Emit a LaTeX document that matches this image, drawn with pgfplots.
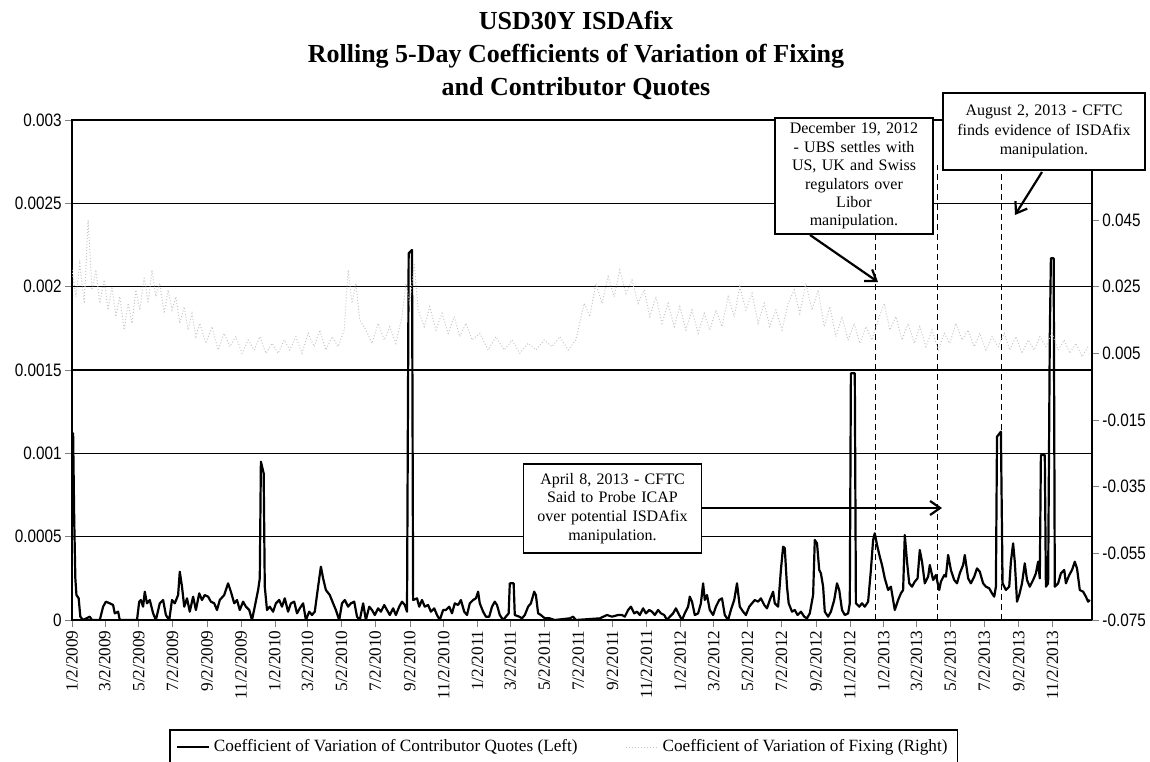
\documentclass[border=0pt]{standalone}
\usepackage{fontspec}
\setmainfont{Liberation Serif}
\newfontfamily\narrow{Liberation Sans}[FakeStretch=0.85]
\usepackage{pgfplots}
\usepackage{pgfplotstable}
\pgfplotsset{compat=1.18}
\usetikzlibrary{arrows.meta}

\pgfplotstableread{
day cv
0 0.0009
2 0.00112
4 0.0006
6 0.00025
8 0.00015
12 0.00013
15 0.00002
20 0.0
32 0.00002
36 0.0
50 0.0
56 0.00008
61 0.00011
68 0.0001
74 0.00009
77 0.00004
83 0.00005
86 0.0
117 0.0
121 0.00011
124 0.00012
128 0.00008
131 0.00017
135 0.0001
140 0.00012
146 0.00004
151 0.0
158 0.0001
164 0.00012
169 0.00003
175 0.0
180 0.00012
185 0.0001
191 0.00015
194 0.00029
198 0.0002
202 0.00008
207 0.00013
212 0.00005
218 0.00014
223 0.00006
229 0.00016
234 0.00012
239 0.00015
245 0.00014
250 0.00011
256 0.0001
261 0.00006
266 0.00012
274 0.00015
281 0.00022
286 0.00017
292 0.0001
297 0.00012
302 0.00006
308 0.00011
313 0.00008
319 0.00006
324 0.0
329 0.00008
335 0.00018
338 0.00025
340 0.00095
345 0.00088
347 0.0002
351 0.00006
356 0.00008
362 0.00005
367 0.0001
373 0.00012
378 0.00008
383 0.00013
389 0.00005
394 0.0001
400 0.00011
405 0.00004
410 0.00007
416 0.0001
421 0.0
427 0.00005
432 0.00003
437 0.00005
443 0.0002
448 0.00032
452 0.00025
457 0.00018
464 0.00015
470 0.0001
475 0.00006
481 0.0
486 0.0001
491 0.00012
497 0.00008
502 0.0001
508 0.00011
513 0.00002
518 0.0
524 0.0001
529 0.0
535 0.00008
540 0.00006
545 0.00003
551 0.00007
556 0.00005
562 0.00009
567 0.00006
572 0.00003
578 0.00007
583 0.00003
589 0.00008
594 0.00011
599 0.00009
603 0.00005
606 0.0022
612 0.00222
614 0.00012
621 0.00013
625 0.00008
630 0.00012
635 0.00008
641 0.00009
646 0.00005
652 0.00007
657 0.00003
662 0.0
668 0.00006
673 0.00006
679 0.00008
684 0.00004
689 0.0001
695 0.00009
700 0.00012
706 0.00005
711 0.00003
716 0.0001
722 0.00012
727 0.00013
731 0.00017
734 0.0001
740 0.00005
745 0.00002
751 0.00002
756 0.00008
761 0.00011
765 0.00009
770 0.00003
776 0.0
781 0.00002
786 0.00004
788 0.00022
795 0.00022
797 0.00003
805 0.00002
810 0.00001
815 0.00003
821 0.00008
826 0.0001
832 0.00017
835 0.00015
839 0.00004
844 0.00003
851 0.00001
860 0.00001
869 0.0
896 0.00001
902 0.00002
907 0.0
950 0.00001
963 0.00003
972 0.00002
983 0.00003
990 0.00003
995 0.00002
1001 0.00006
1006 0.00008
1012 0.00004
1017 0.00005
1022 0.00003
1028 0.00007
1033 0.00004
1039 0.00006
1044 0.00005
1049 0.00003
1055 0.00006
1060 0.00004
1066 0.00003
1071 0.0
1076 0.00002
1082 0.00004
1087 0.00007
1093 0.00003
1098 0.0
1103 0.00004
1109 0.00008
1112 0.00014
1116 0.00011
1121 0.00003
1127 0.00004
1132 0.0001
1136 0.00022
1139 0.00012
1143 0.00015
1148 0.00006
1154 0.00003
1159 0.00008
1165 0.00012
1170 0.00013
1175 0.00003
1181 0.0
1186 0.00006
1192 0.00012
1197 0.00022
1202 0.00008
1208 0.00005
1213 0.00003
1219 0.00008
1224 0.0001
1229 0.00012
1235 0.00011
1240 0.00013
1246 0.00009
1251 0.00007
1256 0.00012
1262 0.00017
1265 0.0001
1271 0.00008
1276 0.0003
1280 0.00044
1283 0.00043
1287 0.0002
1290 0.0001
1296 0.00005
1301 0.00006
1306 0.00003
1312 0.00005
1318 0.00002
1323 0.00001
1328 0.00004
1334 0.00015
1337 0.00048
1341 0.00046
1345 0.0003
1348 0.00028
1352 0.0002
1355 0.00005
1361 0.00002
1366 0.00005
1372 0.00012
1377 0.00022
1381 0.00018
1386 0.00006
1391 0.00003
1397 0.00004
1400 0.0001
1402 0.00148
1409 0.00148
1411 0.0001
1417 0.00008
1422 0.0001
1427 0.00008
1433 0.00011
1438 0.0003
1442 0.00048
1445 0.00052
1449 0.00045
1454 0.00038
1458 0.00033
1463 0.00025
1469 0.00018
1474 0.0002
1478 0.00012
1481 0.00006
1487 0.00012
1492 0.00016
1496 0.00018
1499 0.00051
1503 0.00035
1507 0.00022
1512 0.0002
1517 0.00023
1522 0.00025
1526 0.00042
1530 0.00035
1535 0.00022
1541 0.00026
1544 0.00033
1550 0.00024
1555 0.00027
1561 0.00018
1564 0.00023
1570 0.00027
1573 0.00026
1577 0.00039
1582 0.0003
1588 0.00024
1593 0.00022
1598 0.00028
1604 0.00033
1607 0.00039
1613 0.00025
1618 0.00022
1624 0.00026
1629 0.00031
1634 0.00029
1640 0.00022
1645 0.0002
1651 0.00019
1656 0.00016
1660 0.00014
1663 0.0002
1665 0.0011
1672 0.00113
1675 0.00022
1681 0.00018
1687 0.0002
1690 0.00035
1694 0.00046
1697 0.00035
1701 0.00011
1705 0.00015
1710 0.00022
1715 0.00034
1719 0.00024
1724 0.0002
1730 0.00024
1735 0.00028
1739 0.00035
1742 0.00025
1744 0.00099
1751 0.00099
1753 0.0002
1757 0.00022
1760 0.0017
1762 0.00217
1767 0.00217
1769 0.0002
1775 0.00022
1780 0.00028
1786 0.0003
1789 0.00022
1795 0.00027
1800 0.0003
1805 0.00035
1809 0.00031
1814 0.00018
1820 0.00017
1825 0.00014
1829 0.00011
1832 0.00012
}\contrib

\pgfplotstableread{
day cv
0 0.030
7 0.022
14 0.032
22 0.020
29 0.045
36 0.024
43 0.030
50 0.020
58 0.027
65 0.018
72 0.025
79 0.016
86 0.022
94 0.012
101 0.020
108 0.014
115 0.024
122 0.018
130 0.028
137 0.020
144 0.030
151 0.022
158 0.026
166 0.017
173 0.024
180 0.018
187 0.022
194 0.014
202 0.019
209 0.012
216 0.017
223 0.010
230 0.014
241 0.008
252 0.013
263 0.006
274 0.011
284 0.007
295 0.010
306 0.005
317 0.009
328 0.006
338 0.010
349 0.005
360 0.008
371 0.005
382 0.009
392 0.006
403 0.010
414 0.005
425 0.011
436 0.007
446 0.012
457 0.006
468 0.010
479 0.007
490 0.012
497 0.030
504 0.020
511 0.026
518 0.015
529 0.012
540 0.008
551 0.014
562 0.009
572 0.013
583 0.008
594 0.016
601 0.026
608 0.020
616 0.032
623 0.018
634 0.013
644 0.019
655 0.012
666 0.017
677 0.011
688 0.016
698 0.010
709 0.014
720 0.009
734 0.011
749 0.006
763 0.010
778 0.006
792 0.009
806 0.005
821 0.008
835 0.006
850 0.009
864 0.007
878 0.010
893 0.006
907 0.009
922 0.020
932 0.016
943 0.026
954 0.020
965 0.028
976 0.022
986 0.030
997 0.023
1008 0.027
1019 0.020
1030 0.024
1040 0.016
1051 0.022
1062 0.014
1073 0.020
1084 0.013
1094 0.019
1105 0.012
1116 0.018
1127 0.011
1138 0.017
1148 0.012
1159 0.018
1170 0.013
1181 0.022
1192 0.016
1202 0.025
1213 0.018
1224 0.023
1235 0.014
1246 0.020
1256 0.013
1267 0.018
1278 0.012
1289 0.020
1300 0.024
1310 0.017
1321 0.026
1332 0.018
1343 0.024
1354 0.013
1364 0.019
1375 0.010
1386 0.016
1397 0.009
1408 0.014
1418 0.008
1429 0.013
1440 0.009
1451 0.015
1462 0.020
1472 0.012
1483 0.016
1494 0.009
1505 0.014
1516 0.008
1526 0.013
1537 0.007
1548 0.012
1559 0.006
1570 0.011
1580 0.008
1591 0.014
1602 0.009
1613 0.012
1624 0.007
1634 0.011
1645 0.006
1656 0.010
1667 0.007
1678 0.011
1688 0.006
1699 0.010
1710 0.005
1721 0.009
1732 0.006
1742 0.010
1753 0.007
1764 0.011
1775 0.006
1786 0.009
1796 0.005
1807 0.008
1818 0.004
1829 0.007
}\fixing

\begin{document}
\begin{tikzpicture}
\useasboundingbox (-36pt,-70.5pt) rectangle (539pt,310pt);
\begin{axis}[
  at={(0pt,0pt)}, anchor=south west,
  scale only axis, width=510pt, height=250pt,
  xmin=0, xmax=1836, ymin=0, ymax=0.003,
  tick pos=left, tick align=outside, major tick length=3.5pt,
  axis line style={line width=0.8pt},
  ymajorgrids, grid style={black, line width=0.6pt},
  scaled y ticks=false,
  xtick={0,59,120,181,243,304,365,424,485,546,608,669,730,789,850,911,973,1034,1095,1155,1216,1277,1339,1400,1461,1520,1581,1642,1704,1765},
  xticklabels={1/2/2009,3/2/2009,5/2/2009,7/2/2009,9/2/2009,11/2/2009,1/2/2010,3/2/2010,5/2/2010,7/2/2010,9/2/2010,11/2/2010,1/2/2011,3/2/2011,5/2/2011,7/2/2011,9/2/2011,11/2/2011,1/2/2012,3/2/2012,5/2/2012,7/2/2012,9/2/2012,11/2/2012,1/2/2013,3/2/2013,5/2/2013,7/2/2013,9/2/2013,11/2/2013},
  xticklabel style={rotate=90, anchor=east, font=\fontsize{8.6}{10}\selectfont, inner sep=1.5pt},
  ytick={0,0.0005,0.001,0.0015,0.002,0.0025,0.003},
  yticklabels={0,0.0005,0.001,0.0015,0.002,0.0025,0.003},
  yticklabel style={font=\narrow\fontsize{9}{10}\selectfont, inner sep=1.5pt},
  legend style={at={(0.482,-0.218)}, anchor=north, legend columns=2, draw=black, line width=0.8pt,
    font=\fontsize{8.6}{10}\selectfont, inner sep=3pt,
    /tikz/every even column/.append style={column sep=22pt}},
  legend image code/.code={\draw[#1] (0pt,0pt) -- (16pt,0pt);},
]
\addplot[black, line width=1.1pt, line join=round] table {\contrib};
\addlegendentry{Coefficient of Variation of Contributor Quotes (Left)}
\addlegendimage{gray!45, line width=0.5pt, densely dotted}
\addlegendentry{Coefficient of Variation of Fixing (Right)}
\draw[black, line width=0.5pt, dash pattern=on 3pt off 2pt] (axis cs:1447,0) -- (axis cs:1447,0.00231);
\draw[black, line width=0.5pt, dash pattern=on 3pt off 2pt] (axis cs:1557,0) -- (axis cs:1557,0.00273);
\draw[black, line width=0.5pt, dash pattern=on 3pt off 2pt] (axis cs:1673,0) -- (axis cs:1673,0.0027);
\end{axis}
\begin{axis}[
  at={(0pt,0pt)}, anchor=south west,
  scale only axis, width=510pt, height=250pt,
  xmin=0, xmax=1836, ymin=-0.075, ymax=0.075,
  axis x line=none, axis y line*=right,
  tick align=outside, major tick length=3.5pt,
  axis line style={line width=0.8pt},
  scaled y ticks=false,
  ytick={-0.075,-0.055,-0.035,-0.015,0.005,0.025,0.045},
  yticklabels={-0.075,-0.055,-0.035,-0.015,0.005,0.025,0.045},
  yticklabel style={font=\narrow\fontsize{9}{10}\selectfont, inner sep=1.5pt},
]
\addplot[gray!45, line width=0.5pt, densely dotted] table {\fixing};
\end{axis}

\node[align=center, font=\bfseries\fontsize{13}{16.5}\selectfont] at (252pt,282.5pt)
  {USD30Y ISDAfix\\Rolling 5-Day Coefficients of Variation of Fixing\\and Contributor Quotes};

\node[draw, fill=white, line width=0.9pt, align=center, text width=76pt, minimum height=58pt,
  inner sep=1.5pt, font=\fontsize{8}{9.2}\selectfont] at (391pt,222pt)
  {December 19, 2012\\- UBS settles with\\US, UK and Swiss\\regulators over\\Libor\\manipulation.};
\node[draw, fill=white, line width=0.9pt, align=center, text width=98pt, minimum height=38.5pt,
  inner sep=1.5pt, font=\fontsize{8}{9.6}\selectfont] at (486pt,244.25pt)
  {August 2, 2013 - CFTC\\finds evidence of ISDAfix\\manipulation.};
\node[draw, fill=white, line width=0.9pt, align=center, text width=86pt, minimum height=44.5pt,
  inner sep=1.5pt, font=\fontsize{8}{9.4}\selectfont] at (270.25pt,55.75pt)
  {April 8, 2013 - CFTC\\Said to Probe ICAP\\over potential ISDAfix\\manipulation.};

\draw[line width=1.1pt, -{Straight Barb[length=5pt,width=7pt]}] (369pt,192.5pt) -- (403pt,169pt);
\draw[line width=1.1pt, -{Straight Barb[length=5pt,width=7pt]}] (485pt,224pt) -- (471.5pt,202.5pt);
\draw[line width=1.1pt, -{Straight Barb[length=5pt,width=7pt]}] (315pt,56pt) -- (435pt,56pt);
\end{tikzpicture}
\end{document}
